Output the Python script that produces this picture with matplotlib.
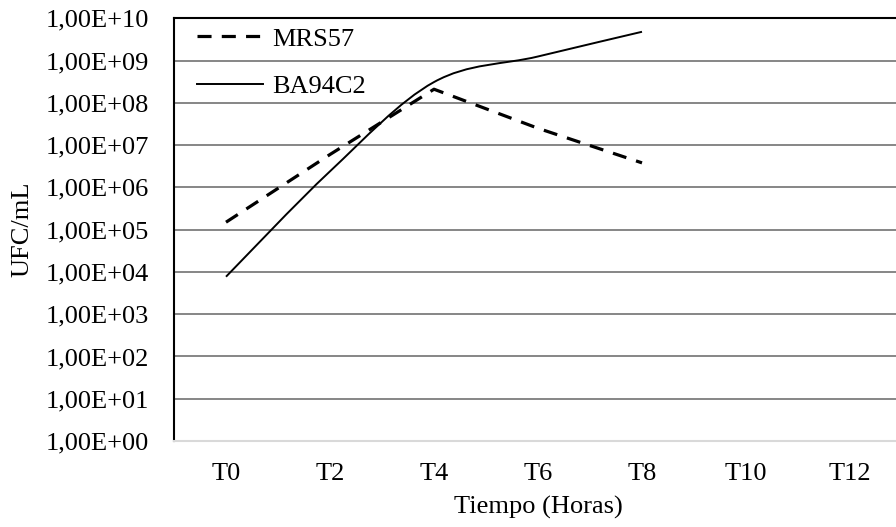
import matplotlib
matplotlib.use("Agg")
import matplotlib.pyplot as plt
import numpy as np
from matplotlib.path import Path
from matplotlib.patches import PathPatch
from matplotlib.lines import Line2D
from matplotlib.ticker import FixedLocator, FuncFormatter, NullLocator

# ---- data ----
categories = ["T0", "T2", "T4", "T6", "T8", "T10", "T12"]
mrs57 = [1.5e5, 6.0e6, 2.1e8, 2.5e7, 3.8e6]
ba94c2 = [7.7e3, 2.4e6, 3.1e8, 1.25e9, 4.8e9]
series_labels = ["MRS57", "BA94C2"]
y_exponents = list(range(0, 11))
x_label = "Tiempo (Horas)"
y_label = "UFC/mL"

plt.rcParams["font.family"] = ["Liberation Serif", "DejaVu Serif"]
FS = 19

fig = plt.figure(figsize=(8.96, 5.27), dpi=100)
ax = fig.add_axes([174 / 896, 1 - 441 / 527, (902 - 174) / 896, (441 - 18.3) / 527])

ax.set_yscale("log")
ax.set_ylim(10 ** y_exponents[0], 10 ** y_exponents[-1])
ax.set_xlim(-0.5, len(categories) - 0.5)

# gridlines
ax.yaxis.set_major_locator(FixedLocator([10.0 ** e for e in y_exponents]))
ax.yaxis.set_minor_locator(NullLocator())
ax.yaxis.set_major_formatter(FuncFormatter(lambda v, p: "1,00E+%02d" % int(round(np.log10(v)))))
ax.grid(axis="y", color="#868686", lw=1.4, zorder=0)
ax.set_axisbelow(True)

ax.set_xticks(range(len(categories)))
ax.set_xticklabels(categories)
ax.tick_params(axis="x", length=0, pad=16, labelsize=FS)
ax.tick_params(axis="y", length=0, pad=18, labelsize=FS)

for s in ("left", "top"):
    ax.spines[s].set_color("black")
    ax.spines[s].set_linewidth(1.5)
ax.spines["bottom"].set_color("#d9d9d9")
ax.spines["bottom"].set_linewidth(1.5)
ax.spines["right"].set_visible(False)

# dashed MRS57 (straight segments)
xs = np.arange(len(mrs57))
dash_line, = ax.plot(xs, mrs57, color="black", lw=2.3, dashes=(4.4, 3.2),
                     solid_capstyle="butt", dash_capstyle="butt", zorder=3)

# smoothed BA94C2 (Excel-like Bezier smoothing in screen/log space)
px = np.arange(len(ba94c2), dtype=float)
py = np.log10(np.array(ba94c2))
n = len(px)
verts = [(px[0], 10 ** py[0])]
codes = [Path.MOVETO]
for i in range(n - 1):
    i0 = max(i - 1, 0)
    i3 = min(i + 2, n - 1)
    c1x = px[i] + (px[i + 1] - px[i0]) / 6
    c1y = py[i] + (py[i + 1] - py[i0]) / 6
    c2x = px[i + 1] - (px[i3] - px[i]) / 6
    c2y = py[i + 1] - (py[i3] - py[i]) / 6
    verts += [(c1x, 10 ** c1y), (c2x, 10 ** c2y), (px[i + 1], 10 ** py[i + 1])]
    codes += [Path.CURVE4] * 3
patch = PathPatch(Path(verts, codes), facecolor="none", edgecolor="black", lw=1.4,
                  transform=ax.transData, zorder=3)
ax.add_patch(patch)

solid_handle = Line2D([], [], color="black", lw=1.4)
leg = ax.legend([dash_line, solid_handle], series_labels, loc="upper left",
                bbox_to_anchor=((197 - 174) / 728, 0.979), frameon=False, fontsize=FS,
                handlelength=2.5, handletextpad=0.34, labelspacing=0.9,
                borderaxespad=0.0, borderpad=0.0)

ax.set_xlabel(x_label, fontsize=FS, va="center")
ax.xaxis.set_label_coords(0.5, (441 - 507) / 422.7)
ax.set_ylabel(y_label, fontsize=FS, va="center")
ax.yaxis.set_label_coords((22 - 174) / 728, 0.5)

fig.savefig("out.png", dpi=100)
